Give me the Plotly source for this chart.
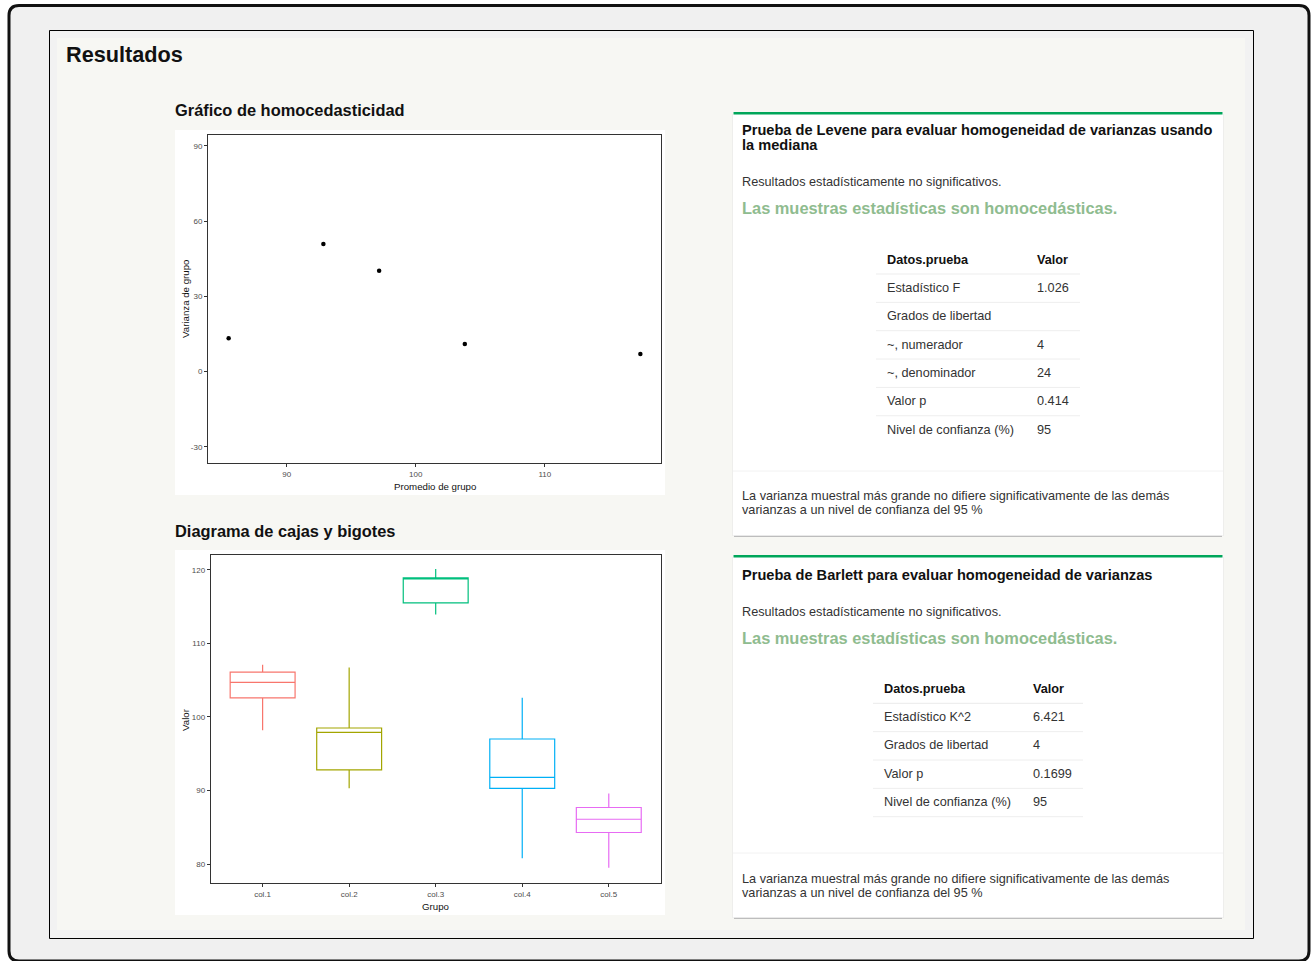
import plotly.graph_objects as go

# ---------------- data ----------------
group_mean = [85.5, 92.84, 97.16, 103.8, 117.4]
group_var = [13.3, 50.9, 40.2, 11.0, 7.0]

box_groups = ["col.1", "col.2", "col.3", "col.4", "col.5"]
box_lower = [98.2, 90.3, 113.9, 80.8, 79.5]
box_q1 = [102.6, 92.8, 115.5, 90.3, 84.3]
box_median = [104.7, 97.9, 118.8, 91.8, 86.1]
box_q3 = [106.1, 98.5, 118.9, 97.0, 87.7]
box_upper = [107.1, 106.7, 120.1, 102.6, 89.6]
box_colors = ["#F8766D", "#A3A500", "#00BF7D", "#00B0F6", "#E76BF3"]

scatter_xticks = [90, 100, 110]
scatter_yticks = [-30, 0, 30, 60, 90]
scatter_yticktext = ["-30", "0", "30", "60", "90"]
box_yticks = [80, 90, 100, 110, 120]

levene_labels = ["Estadístico F", "Grados de libertad", "~, numerador",
                 "~, denominador", "Valor p", "Nivel de confianza (%)"]
levene_values = ["1.026", "", "4", "24", "0.414", "95"]
bartlett_labels = ["Estadístico K^2", "Grados de libertad", "Valor p",
                   "Nivel de confianza (%)"]
bartlett_values = ["6.421", "4", "0.1699", "95"]

# ---------------- layout helpers ----------------
W, H = 1312, 961
FONT = "Liberation Sans, Arial, sans-serif"
BODY = 12.7


def X(px):
    return px / W


def Y(py):
    return 1 - py / H


shapes = []
annotations = []


def rect(x0, y0, x1, y1, fill, line=None, lw=0):
    shapes.append(dict(type="rect", xref="paper", yref="paper",
                       x0=X(x0), x1=X(x1), y0=Y(y1), y1=Y(y0),
                       fillcolor=fill, layer="below",
                       line=dict(color=line or fill, width=lw)))


def hline(x0, x1, y, color, lw=1):
    shapes.append(dict(type="line", xref="paper", yref="paper",
                       x0=X(x0), x1=X(x1), y0=Y(y), y1=Y(y), layer="below",
                       line=dict(color=color, width=lw)))


def text(x, y, s, size=BODY, color="#333333", bold=False, xanchor="left",
         angle=0):
    if bold:
        s = "<b>" + s + "</b>"
    if xanchor == "left":
        x -= 2
    annotations.append(dict(xref="paper", yref="paper", x=X(x), y=Y(y),
                            text=s, showarrow=False, xanchor=xanchor,
                            yanchor="middle", textangle=angle,
                            font=dict(family=FONT, size=size, color=color)))


# outer rounded frame
r = 10
x0, y0, x1, y1 = 9, 5.5, 1309, 961
path = (f"M {X(x0+r)},{Y(y0)} L {X(x1-r)},{Y(y0)} "
        f"Q {X(x1)},{Y(y0)} {X(x1)},{Y(y0+r)} L {X(x1)},{Y(y1-r)} "
        f"Q {X(x1)},{Y(y1)} {X(x1-r)},{Y(y1)} L {X(x0+r)},{Y(y1)} "
        f"Q {X(x0)},{Y(y1)} {X(x0)},{Y(y1-r)} L {X(x0)},{Y(y0+r)} "
        f"Q {X(x0)},{Y(y0)} {X(x0+r)},{Y(y0)} Z")
shapes.append(dict(type="path", xref="paper", yref="paper", path=path,
                   fillcolor="#f0f0f0", layer="below",
                   line=dict(color="#111111", width=3)))

# inner frame
rect(49.5, 30.5, 1253.5, 938.5, "#f2f2f2", "#000000", 1)
rect(57, 38, 1245, 930, "#f7f7f3")

# plot panels
rect(175, 130, 665, 495, "#ffffff")
rect(175, 550, 665, 915, "#ffffff")


def card(top, bottom, footer_y):
    rect(732.5, top + 2, 1223.5, bottom + 0.5, "#e6e6e6")
    hline(734, 1222, bottom + 0.8, "#bdbdbd", 1.6)
    rect(733, top, 1223, bottom, "#ffffff")
    rect(733.5, top, 1222.5, top + 2.6, "#00a65a")
    hline(733, 1223, footer_y, "#f2f2f2", 1)


card(112, 535.5, 471)
card(555, 917.5, 853)

# headings
text(66, 54, "Resultados", size=21.7, color="#111111", bold=True)
text(175, 110, "Gráfico de homocedasticidad", size=16.4, color="#111111", bold=True)
text(175, 531, "Diagrama de cajas y bigotes", size=16.4, color="#111111", bold=True)

FOOT1 = "La varianza muestral más grande no difiere significativamente de las demás"
FOOT2 = "varianzas a un nivel de confianza del 95 %"

# Levene card text
text(742, 130, "Prueba de Levene para evaluar homogeneidad de varianzas usando",
     size=14.6, color="#111111", bold=True)
text(742, 145, "la mediana", size=14.6, color="#111111", bold=True)
text(742, 182, "Resultados estadísticamente no significativos.")
text(742, 208, "Las muestras estadísticas son homocedásticas.", size=16.4,
     color="#8FBC8F", bold=True)
text(887, 260, "Datos.prueba", color="#111111", bold=True)
text(1037, 260, "Valor", color="#111111", bold=True)
for i, (lab, val) in enumerate(zip(levene_labels, levene_values)):
    yy = 288 + 28.3 * i
    text(887, yy, lab)
    if val:
        text(1037, yy, val)
    hline(876, 1080, 274 + 28.35 * i, "#eeeeee", 1.2 if i == 0 else 1)
text(742, 496, FOOT1)
text(742, 510, FOOT2)

# Bartlett card text
text(742, 575, "Prueba de Barlett para evaluar homogeneidad de varianzas",
     size=14.6, color="#111111", bold=True)
text(742, 612, "Resultados estadísticamente no significativos.")
text(742, 638, "Las muestras estadísticas son homocedásticas.", size=16.4,
     color="#8FBC8F", bold=True)
text(884, 689, "Datos.prueba", color="#111111", bold=True)
text(1033, 689, "Valor", color="#111111", bold=True)
for i, (lab, val) in enumerate(zip(bartlett_labels, bartlett_values)):
    yy = 717 + 28.3 * i
    text(884, yy, lab)
    text(1033, yy, val)
hline(873, 1083, 703.3, "#eeeeee", 1.2)
for i in range(1, len(bartlett_labels) + 1):
    hline(873, 1083, 703.3 + 28.35 * i, "#eeeeee", 1)
text(742, 879, FOOT1)
text(742, 893, FOOT2)

# axis titles
text(434.5, 486, "Promedio de grupo", size=9.7, color="#111111", xanchor="center")
text(185, 299, "Varianza de grupo", size=9.7, color="#111111", xanchor="center", angle=-90)
text(435.5, 906, "Grupo", size=9.7, color="#111111", xanchor="center")
text(185, 719, "Valor", size=9.7, color="#111111", xanchor="center", angle=-90)

# ---------------- figure ----------------
fig = go.Figure()

fig.add_trace(go.Scatter(x=group_mean, y=group_var, mode="markers",
                         marker=dict(color="#000000", size=4.5),
                         xaxis="x", yaxis="y", showlegend=False,
                         hoverinfo="x+y"))

for i, g in enumerate(box_groups):
    fig.add_trace(go.Box(x=[g], q1=[box_q1[i]], median=[box_median[i]],
                         q3=[box_q3[i]], lowerfence=[box_lower[i]],
                         upperfence=[box_upper[i]],
                         line=dict(color=box_colors[i], width=1.2),
                         fillcolor="rgba(255,255,255,0)",
                         whiskerwidth=0, boxpoints=False, width=0.75,
                         xaxis="x2", yaxis="y2", showlegend=False))

axis_common = dict(showline=True, linecolor="#333333", linewidth=1,
                   mirror=True, ticks="outside", ticklen=3,
                   tickcolor="#333333", tickwidth=1, showgrid=False,
                   zeroline=False,
                   tickfont=dict(family=FONT, size=8, color="#4d4d4d"))

fig.update_layout(
    width=W, height=H,
    margin=dict(l=0, r=0, t=0, b=0),
    paper_bgcolor="#ffffff",
    plot_bgcolor="#ffffff",
    showlegend=False,
    boxmode="overlay",
    xaxis=dict(domain=[X(208), X(661)], anchor="y", range=[83.9, 119.0],
               tickvals=scatter_xticks, **axis_common),
    yaxis=dict(domain=[Y(463), Y(135)], anchor="x", range=[-36.4, 94.3],
               tickvals=scatter_yticks, ticktext=scatter_yticktext,
               **axis_common),
    xaxis2=dict(domain=[X(210.7), X(660.7)], anchor="y2", range=[-0.6, 4.6],
                type="category", **axis_common),
    yaxis2=dict(domain=[Y(883.3), Y(555)], anchor="x2", range=[77.4, 122.0],
                tickvals=box_yticks, **axis_common),
    shapes=shapes,
    annotations=annotations,
    font=dict(family=FONT),
)

fig.write_html("out.html",
               config={"displayModeBar": False},
               post_script="document.body.style.margin='0';"
                           "document.body.style.overflow='hidden';")
